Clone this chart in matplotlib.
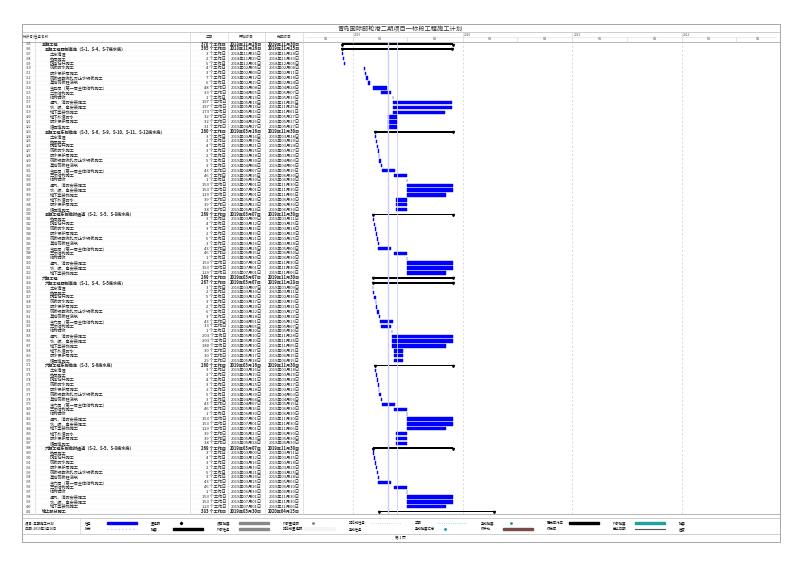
import matplotlib
matplotlib.use("Agg")
import matplotlib.pyplot as plt
import matplotlib.dates as mdates
from matplotlib.patches import Rectangle
import datetime as dt

plt.rcParams['font.family'] = ['Noto Sans CJK SC', 'DejaVu Sans']

title = "青岛国际邮轮港二期项目一标段工程施工计划"
col_headers = ["标识号", "任务名称", "工期", "开始时间", "完成时间"]

names16 = ["土方清理", "垫层施工", "抗浮锚杆施工", "筏板防水施工", "防水保护层施工",
           "筏板钢筋绑扎及止水钢板施工", "基础筏板砼浇筑", "主五层（第一层主体结构施工）",
           "二次结构施工", "结构验收", "通风、消防安装施工", "水、暖、电安装施工",
           "地下室装饰施工", "地下外墙防水", "防水保护层施工", "墙回填施工"]
names12 = ["垫层施工", "抗浮锚杆施工", "筏板防水施工", "防水保护层施工",
           "筏板钢筋绑扎及止水钢板施工", "基础筏板砼浇筑", "主五层（第一层主体结构施工）",
           "二次结构施工", "结构验收", "通风、消防安装施工", "水、暖、电安装施工", "地下室装饰施工"]
names16_6 = [n.replace("主五层", "主六层") for n in names16]
names12_6 = [n.replace("主五层", "主六层") for n in names12]

w5_start = ["2018-11-26", "2018-11-29", "2018-12-01", "2019-02-05", "2019-02-09", "2019-02-12",
            "2019-02-19", "2019-03-08", "2019-04-05", "2019-05-13", "2019-05-13", "2019-05-13",
            "2019-05-13", "2019-04-26", "2019-04-26", "2019-04-27"]
w5_end = ["2018-11-28", "2018-11-30", "2018-12-05", "2019-02-08", "2019-02-11", "2019-02-18",
          "2019-02-24", "2019-04-24", "2019-05-07", "2019-05-13", "2019-11-25", "2019-11-25",
          "2019-11-01", "2019-05-27", "2019-05-27", "2019-05-27"]
e_start = ["2019-03-16", "2019-03-19", "2019-03-21", "2019-03-25", "2019-03-28", "2019-03-30",
           "2019-04-04", "2019-04-07", "2019-05-16", "2019-06-30", "2019-07-01", "2019-07-01",
           "2019-07-01", "2019-05-23", "2019-05-23", "2019-05-24"]
e_end = ["2019-03-18", "2019-03-20", "2019-03-24", "2019-03-27", "2019-03-29", "2019-04-03",
         "2019-04-06", "2019-05-19", "2019-06-30", "2019-06-30", "2019-11-30", "2019-11-30",
         "2019-11-06", "2019-06-30", "2019-06-30", "2019-06-30"]
t_start = ["2019-03-09", "2019-03-12", "2019-03-16", "2019-03-19", "2019-03-21", "2019-03-26",
           "2019-03-25", "2019-05-16", "2019-06-30", "2019-07-01", "2019-07-01", "2019-07-01"]
t_end = ["2019-03-11", "2019-03-15", "2019-03-18", "2019-03-20", "2019-03-25", "2019-03-28",
         "2019-05-06", "2019-06-30", "2019-06-30", "2019-11-30", "2019-11-30", "2019-11-06"]
w6_start = ["2019-03-07", "2019-03-10", "2019-03-12", "2019-03-17", "2019-03-20", "2019-03-22",
            "2019-03-28", "2019-04-01", "2019-04-05", "2019-05-10", "2019-05-10", "2019-05-10",
            "2019-05-10", "2019-05-17", "2019-05-17", "2019-05-18"]
w6_end = ["2019-03-09", "2019-03-11", "2019-03-16", "2019-03-19", "2019-03-21", "2019-03-27",
          "2019-03-30", "2019-05-13", "2019-05-07", "2019-05-10", "2019-11-28", "2019-11-28",
          "2019-11-05", "2019-06-15", "2019-06-15", "2019-06-15"]

rows = [("五期工程", 0, "2018-11-26", "2019-11-30"),
        ("五期工程西侧高岸（S-1、S-4、S-7底水底）", 1, "2018-11-26", "2019-11-25")]
rows += [(n, 2, s, e) for n, s, e in zip(names16, w5_start, w5_end)]
rows += [("五期工程东侧临岸（S-3、S-6、S-9、S-10、S-11、S-12底水底）", 1, "2019-03-16", "2019-11-30")]
rows += [(n, 2, s, e) for n, s, e in zip(names16, e_start, e_end)]
rows += [("五期工程东侧临时通道（S-2、S-5、S-8底水底）", 1, "2019-03-07", "2019-11-30")]
rows += [(n, 2, s, e) for n, s, e in zip(names12, t_start, t_end)]
rows += [("六期工程", 0, "2019-03-07", "2019-11-30"),
         ("六期工程西侧高岸（S-1、S-4、S-5底水底）", 1, "2019-03-07", "2019-11-28")]
rows += [(n, 2, s, e) for n, s, e in zip(names16_6, w6_start, w6_end)]
rows += [("六期工程东侧临岸（S-3、S-6底水底）", 1, "2019-03-16", "2019-11-30")]
rows += [(n, 2, s, e) for n, s, e in zip(names16_6, e_start, e_end)]
rows += [("六期工程东侧临时通道（S-2、S-5、S-8底水底）", 1, "2019-03-07", "2019-11-30")]
rows += [(n, 2, s, e) for n, s, e in zip(names12_6, t_start, t_end)]
rows += [("地上部分施工", 0, "2019-03-30", "2020-04-15")]
first_id = 305

legend_row1 = ["任务", "里程碑", "项目摘要", "外部里程碑", "非活动任务", "工期", "手动摘要", "已完成对应", "外部摘要", "摘要"]
legend_row2 = ["拆分", "摘要", "外部任务", "非活动里程碑", "手动任务", "手动摘要汇总", "仅开始", "仅完成", "截止日期", "进度"]

W, H = 800, 566
fig = plt.figure(figsize=(8, 5.66), dpi=100)
bg = fig.add_axes([0, 0, 1, 1])
bg.set_xlim(0, W); bg.set_ylim(H, 0); bg.axis('off')

def D(s):
    return dt.datetime.strptime(s, "%Y-%m-%d")

n = len(rows)
top_px, rh = 41.6, 4.87
bot_px = top_px + n * rh
gx0, gx1 = 305, 776
T0, T1 = D("2018-07-25"), D("2022-11-10")
ax = fig.add_axes([gx0 / W, 1 - bot_px / H, (gx1 - gx0) / W, (bot_px - top_px) / H])
ax.set_ylim(n - 0.5, -0.5)
ax.set_xlim(T0, T1)
ax.axis('off')

def px_of(s):
    a = mdates.date2num(T0); b = mdates.date2num(T1)
    return gx0 + (mdates.date2num(D(s)) - a) / (b - a) * (gx1 - gx0)

# frames
bg.add_patch(Rectangle((22, 24), 758, 518, fill=False, lw=0.6, ec='#999999'))
bg.plot([22, 780], [32, 32], color='#bbbbbb', lw=0.5)
bg.plot([22, 780], [41.5, 41.5], color='#999999', lw=0.5)
bg.plot([22, 780], [bot_px, bot_px], color='#999999', lw=0.5)
for x in [35, 190, 228, 265, 303]:
    bg.plot([x, x], [32, bot_px], color='#cccccc', lw=0.4)
bg.text(400, 29, title, fontsize=4.5, ha='center', va='center', color='#333333')
fs = 3.0
bg.text(23, 37, col_headers[0] + "|" + col_headers[1], fontsize=2.6, va='center', color='#333')
bg.text(209, 37, col_headers[2], fontsize=2.6, ha='center', va='center', color='#333')
bg.text(246, 37, col_headers[3], fontsize=2.6, ha='center', va='center', color='#333')
bg.text(284, 37, col_headers[4], fontsize=2.6, ha='center', va='center', color='#333')

# timeline header
bg.plot([gx0, gx1], [37, 37], color='#dddddd', lw=0.4)
for yr in [2019, 2020, 2021, 2022]:
    s = f"{yr}-01-01"
    ax.axvline(D(s), color='#cccccc', lw=0.5, ls=(0, (3, 3)))
    p = px_of(s)
    bg.text(p + 1, 34.5, str(yr), fontsize=2.4, va='center', color='#555')
    bg.plot([p, p], [32, 41.5], color='#cccccc', lw=0.4)
for s in ["2019-07-01", "2020-07-01", "2021-07-01", "2022-07-01"]:
    p = px_of(s)
    bg.plot([p, p], [37, 41.5], color='#cccccc', lw=0.4)
for s, lab in [("2018-10-01", "H2"), ("2019-04-01", "H1"), ("2019-10-01", "H2"), ("2020-04-01", "H1"),
               ("2020-10-01", "H2"), ("2021-04-01", "H1"), ("2021-10-01", "H2"), ("2022-04-01", "H1"),
               ("2022-09-10", "H2")]:
    bg.text(px_of(s), 39.3, lab, fontsize=2.3, ha='center', va='center', color='#555')

# progress lines
ax.axvline(D("2019-04-26"), color='#ccccff', lw=1.0)
ax.axvline(D("2019-05-28"), color='#ccccff', lw=0.6)

for i, (name, lvl, s, e) in enumerate(rows):
    yc = top_px + (i + 0.5) * rh
    bg.plot([22, 303], [yc + rh / 2, yc + rh / 2], color='#eeeeee', lw=0.3)
    bold = 'bold' if lvl < 2 else 'normal'
    bg.text(28.5, yc, str(first_id + i), fontsize=2.4, ha='center', va='center', color='#333')
    bg.text([42, 45, 50][lvl], yc, name, fontsize=fs, va='center', fontweight=bold, color='#222')
    ds, de = D(s), D(e)
    dur = (de - ds).days + 1
    bg.text(226, yc, f"{dur} 个工作日", fontsize=fs, ha='right', va='center', fontweight=bold, color='#222')
    bg.text(246, yc, f"{ds.year}年{ds.month:02d}月{ds.day:02d}日", fontsize=fs, ha='center', va='center', fontweight=bold, color='#222')
    bg.text(284, yc, f"{de.year}年{de.month:02d}月{de.day:02d}日", fontsize=fs, ha='center', va='center', fontweight=bold, color='#222')
    width = de - ds + dt.timedelta(days=1)
    if lvl < 2:
        ax.barh(i, width, left=ds, height=0.35, color='black')
        ax.plot([ds, de + dt.timedelta(days=1)], [i + 0.1, i + 0.1], 'v', color='black', ms=1.5)
    else:
        ax.barh(i, width, left=ds, height=0.7, color='#0000ff', ec='#0000ff', lw=0.3)

# legend box
bg.add_patch(Rectangle((22, 518), 758, 16, fill=False, lw=0.4, ec='#aaaaaa'))
bg.plot([80, 80], [518, 534], color='#cccccc', lw=0.4)
bg.text(25, 523, "项目: 五期施工计划", fontsize=2.4, va='center')
bg.text(25, 529, "日期: 2019年1月16日", fontsize=2.4, va='center')
xs = [85 + 66 * k for k in range(10)]
for k in range(10):
    bg.text(xs[k], 523, legend_row1[k], fontsize=2.4, va='center')
    bg.text(xs[k], 529, legend_row2[k], fontsize=2.4, va='center')
sx = [x + 22 for x in xs]
L = 30
bg.add_patch(Rectangle((sx[0], 521.8), L, 2.4, color='#0000ff'))
bg.plot([sx[0], sx[0] + L], [529, 529], color='#ccccff', lw=1, ls=':')
bg.plot([sx[1] + 8], [523], 'D', color='black', ms=1.2)
bg.add_patch(Rectangle((sx[1], 528), L, 2, color='black'))
bg.add_patch(Rectangle((sx[2], 522), L, 1.6, color='#888888'))
bg.add_patch(Rectangle((sx[2], 528), L, 2.2, color='#888888'))
bg.plot([sx[3] + 8], [523], 'D', color='#888888', ms=1.0)
bg.add_patch(Rectangle((sx[3], 528), L, 2, fill=False, ec='#cccccc', lw=0.3))
bg.plot([sx[4], sx[4] + L], [523, 523], color='#cccccc', lw=0.6, ls=':')
bg.plot([sx[5], sx[5] + L], [523, 523], color='#66dddd', lw=0.6, ls=':')
bg.plot([sx[5] + 8], [529], 'D', color='#20a0a0', ms=1.0)
bg.plot([sx[6] + 8], [523], 'D', color='#20a0a0', ms=1.0)
bg.add_patch(Rectangle((sx[6], 528.3), L, 1.6, color='#7a4a4a'))
bg.add_patch(Rectangle((sx[7], 522), L, 1.8, color='black'))
bg.add_patch(Rectangle((sx[8], 521.8), L, 2.4, color='#20a0a0'))
bg.plot([sx[8], sx[8] + L], [529, 529], color='#555', lw=0.8)
bg.text(400, 538, "第 1 页", fontsize=2.6, ha='center', va='center')

fig.savefig("out.png", dpi=100)
